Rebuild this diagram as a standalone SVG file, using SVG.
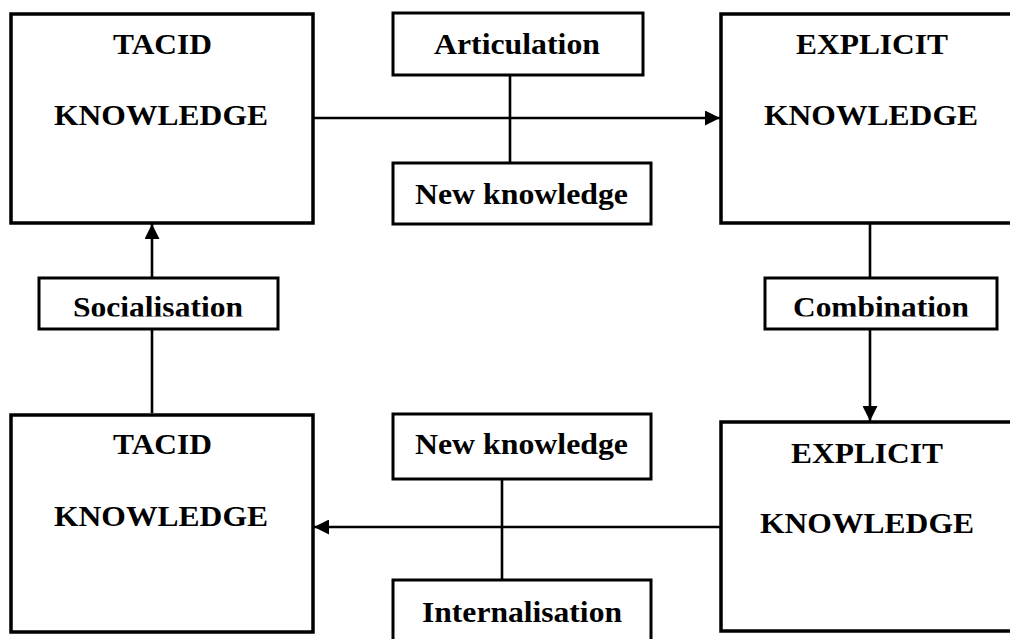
<svg xmlns="http://www.w3.org/2000/svg" width="1010" height="639" viewBox="0 0 1010 639">
<style>
.big{fill:#fff;stroke:#000;stroke-width:3.5}
.small{fill:#fff;stroke:#000;stroke-width:3}
.t{font-family:"Liberation Serif","Times New Roman",serif;font-weight:bold;font-size:30px;fill:#000}
.c{stroke:#000;stroke-width:2.6;fill:none}
</style>
<defs>
<marker id="ah" viewBox="0 0 10 10" refX="10" refY="5" markerWidth="16" markerHeight="15" markerUnits="userSpaceOnUse" orient="auto">
<path d="M0,0 L10,5 L0,10 z" fill="#000"/>
</marker>
<clipPath id="clipS"><rect x="0" y="0" width="1010" height="316.5"/></clipPath>
</defs>
<rect width="1010" height="639" fill="#fff"/>
<g id="connectors">
<line class="c" x1="313" y1="118" x2="720" y2="118" marker-end="url(#ah)"/>
<line class="c" x1="510" y1="75" x2="510" y2="163"/>
<line class="c" x1="152" y1="278" x2="152" y2="224" marker-end="url(#ah)"/>
<line class="c" x1="152" y1="413" x2="152" y2="329"/>
<line class="c" x1="870" y1="223" x2="870" y2="278"/>
<line class="c" x1="870" y1="329" x2="870" y2="421" marker-end="url(#ah)"/>
<line class="c" x1="721" y1="527" x2="314" y2="527" marker-end="url(#ah)"/>
<line class="c" x1="502" y1="479" x2="502" y2="580"/>
</g>
<g id="tacit-top">
<rect class="big" x="11" y="14" width="302" height="209"/>
<text class="t" x="113" y="54" textLength="99" lengthAdjust="spacingAndGlyphs">TACID</text>
<text class="t" x="54" y="125" textLength="214" lengthAdjust="spacingAndGlyphs">KNOWLEDGE</text>
</g>
<g id="explicit-top">
<rect class="big" x="721" y="14" width="300" height="209"/>
<text class="t" x="796" y="54" textLength="152" lengthAdjust="spacingAndGlyphs">EXPLICIT</text>
<text class="t" x="764" y="125" textLength="214" lengthAdjust="spacingAndGlyphs">KNOWLEDGE</text>
</g>
<g id="articulation">
<rect class="small" x="393" y="13" width="250" height="62"/>
<text class="t" x="434" y="54" textLength="166" lengthAdjust="spacingAndGlyphs">Articulation</text>
</g>
<g id="new-knowledge-top">
<rect class="small" x="393" y="163" width="258" height="61"/>
<text class="t" x="415" y="204" textLength="213" lengthAdjust="spacingAndGlyphs">New knowledge</text>
</g>
<g id="socialisation">
<rect class="small" x="39" y="278" width="239" height="51"/>
<text class="t" x="73" y="317" textLength="170" lengthAdjust="spacingAndGlyphs" clip-path="url(#clipS)">Socialisation</text>
</g>
<g id="combination">
<rect class="small" x="765" y="278" width="232" height="51"/>
<text class="t" x="793" y="317" textLength="176" lengthAdjust="spacingAndGlyphs" clip-path="url(#clipS)">Combination</text>
</g>
<g id="tacit-bottom">
<rect class="big" x="11" y="415" width="302" height="217"/>
<text class="t" x="113" y="454" textLength="99" lengthAdjust="spacingAndGlyphs">TACID</text>
<text class="t" x="54" y="526" textLength="214" lengthAdjust="spacingAndGlyphs">KNOWLEDGE</text>
</g>
<g id="explicit-bottom">
<rect class="big" x="721" y="422" width="300" height="209"/>
<text class="t" x="791" y="463" textLength="152" lengthAdjust="spacingAndGlyphs">EXPLICIT</text>
<text class="t" x="760" y="533" textLength="214" lengthAdjust="spacingAndGlyphs">KNOWLEDGE</text>
</g>
<g id="new-knowledge-bottom">
<rect class="small" x="393" y="414" width="258" height="65"/>
<text class="t" x="415" y="454" textLength="213" lengthAdjust="spacingAndGlyphs">New knowledge</text>
</g>
<g id="internalisation">
<rect class="small" x="393" y="580" width="258" height="70"/>
<text class="t" x="422" y="622" textLength="200" lengthAdjust="spacingAndGlyphs">Internalisation</text>
</g>
</svg>
